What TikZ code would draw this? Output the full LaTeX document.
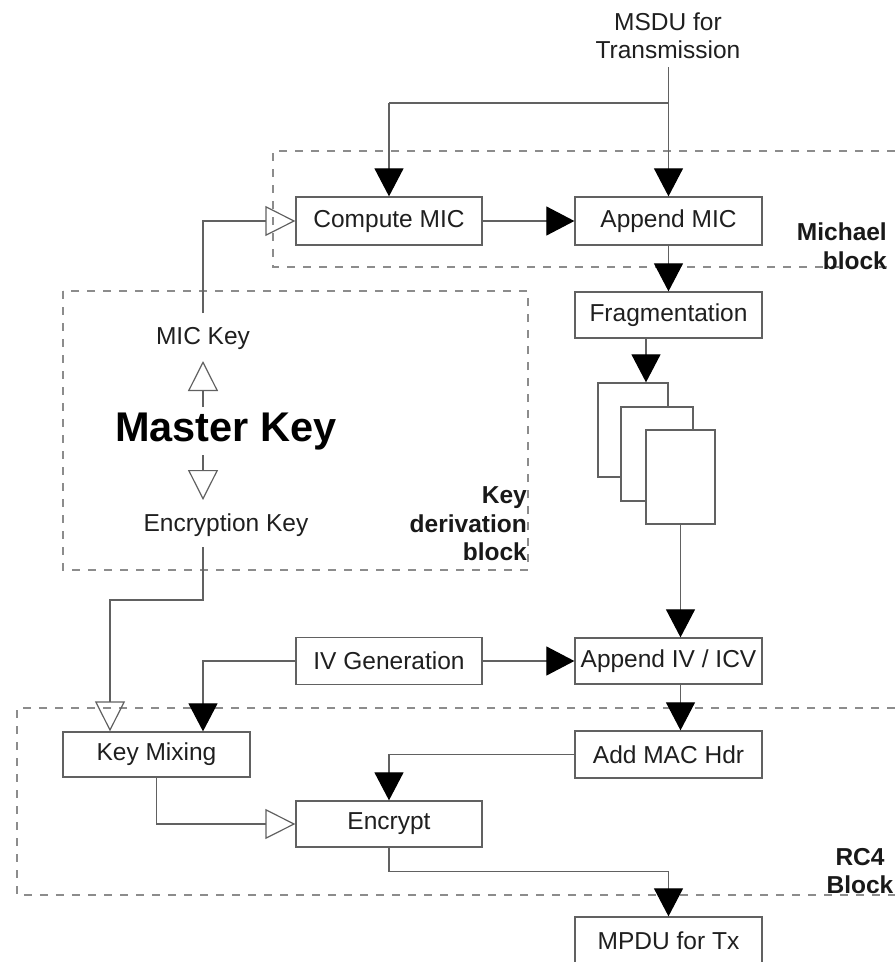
\documentclass[tikz,border=0pt]{standalone}
\usepackage{fontspec}
\setmainfont{Liberation Sans}
\usetikzlibrary{arrows.meta}
\begin{document}
\begin{tikzpicture}[x=1pt,y=-1pt,
  line/.style={draw=black!62, line width=1.2pt},
  box/.style={draw=black!62, line width=1.3pt, fill=white, minimum width=187pt,
    minimum height=47pt, inner sep=0pt, text=black!88,
    font=\fontsize{24.5}{28}\selectfont},
  pagebox/.style={draw=black!62, line width=1.3pt, fill=white, inner sep=0pt},
  txt/.style={inner sep=0pt, text=black!88, font=\fontsize{24.5}{28}\selectfont},
  lbl/.style={inner sep=0pt, text=black!90, font=\bfseries\fontsize{24.5}{28.5}\selectfont},
  farrow/.style={line, -{Triangle[length=28pt,width=29pt,color=black]}},
  harrow/.style={line, -{Triangle[open,length=30pt,width=30pt]}},
  dashbox/.style={draw=black!45, line width=1.4pt, dash pattern=on 8pt off 8pt}]
\clip (0,0) rectangle (895,962);
\fill[white] (0,0) rectangle (895,962);

% dashed blocks
\draw[dashbox] (895,151) -- (273,151) -- (273,267) -- (895,267);
\draw[dashbox] (63,291) rectangle (528,570);
\draw[dashbox] (895,708) -- (17,708) -- (17,895) -- (895,895);

% boxes
\node[box, minimum width=186pt, minimum height=48pt] (cmic) at (389,221) {Compute MIC};
\node[box, minimum height=48pt] (appmic) at (668.5,221) {Append MIC};
\node[box, minimum height=46pt] (frag) at (668.5,315) {Fragmentation};
\node[pagebox, minimum width=70pt, minimum height=94pt] (p1) at (633,430) {};
\node[pagebox, minimum width=72pt, minimum height=94pt] (p2) at (657,454) {};
\node[pagebox, minimum width=69pt, minimum height=94pt] (p3) at (680.5,477) {};
\node[box, minimum height=46pt] (appiv) at (668.5,661) {Append IV / ICV};
\node[box, minimum width=186pt] (ivgen) at (389,661) {IV Generation};
\node[box] (addmac) at (668.5,754.5) {Add MAC Hdr};
\node[box, minimum height=45pt] (keymix) at (156.5,754.5) {Key Mixing};
\node[box, minimum width=186pt, minimum height=46pt] (encrypt) at (389,824) {Encrypt};
\node[box, minimum height=48pt] (mpdu) at (668.5,941) {MPDU for Tx};

% text
\node[txt, align=center] (msdu) at (668,36) {MSDU for\\Transmission};
\node[txt] (mickey) at (203,338) {MIC Key};
\node[inner sep=0pt, text=black, font=\bfseries\fontsize{41.5}{44}\selectfont] (master) at (226,432) {Master Key};
\node[txt] (enckey) at (226,525) {Encryption Key};
\node[lbl, align=right, anchor=east] (michael) at (887,246) {Michael\\block};
\node[lbl, align=right, anchor=east] (kdb) at (527,524) {Key\\derivation\\block};
\node[lbl, align=center] (rc4) at (860,871) {RC4\\Block};

% free ends
\coordinate (msdu0) at (668.5,67);
\coordinate (br) at (668.5,103);
\coordinate (mk0) at (203,313);
\coordinate (mk1) at (203,407);
\coordinate (mk2) at (203,361);
\coordinate (ek1) at (203,455);
\coordinate (ek2) at (203,500);
\coordinate (ek0) at (203,547);
\coordinate (ekb) at (203,600);

% connectors
\draw[farrow] (msdu0) -- (appmic.north);
\draw[line] (br) -- (br -| cmic.north);
\draw[farrow] (br -| cmic.north) -- (cmic.north);
\draw[harrow] (mk0) |- (cmic.west);
\draw[farrow] (cmic) -- (appmic);
\draw[farrow] (appmic) -- (frag);
\draw[farrow] ([xshift=-22.5pt]frag.south) -- ([xshift=13pt]p1.north);
\draw[farrow] (p3.south) -- (p3.south |- appiv.north);
\draw[farrow] (ivgen) -- (appiv);
\draw[farrow] (p3.south |- appiv.south) -- (p3.south |- addmac.north);
\draw[farrow] (ivgen.west) -| ([xshift=46.5pt]keymix.north);
\draw[harrow] (ek0) -- (ekb) -| ([xshift=-46.5pt]keymix.north);
\draw[farrow] (addmac.west) -| (encrypt.north);
\draw[harrow] (keymix.south) |- (encrypt.west);
\draw[farrow] (encrypt.south) -- ++(0,24) -| (mpdu.north);
\draw[harrow] (mk1) -- (mk2);
\draw[harrow] (ek1) -- (ek2);
\end{tikzpicture}
\end{document}
